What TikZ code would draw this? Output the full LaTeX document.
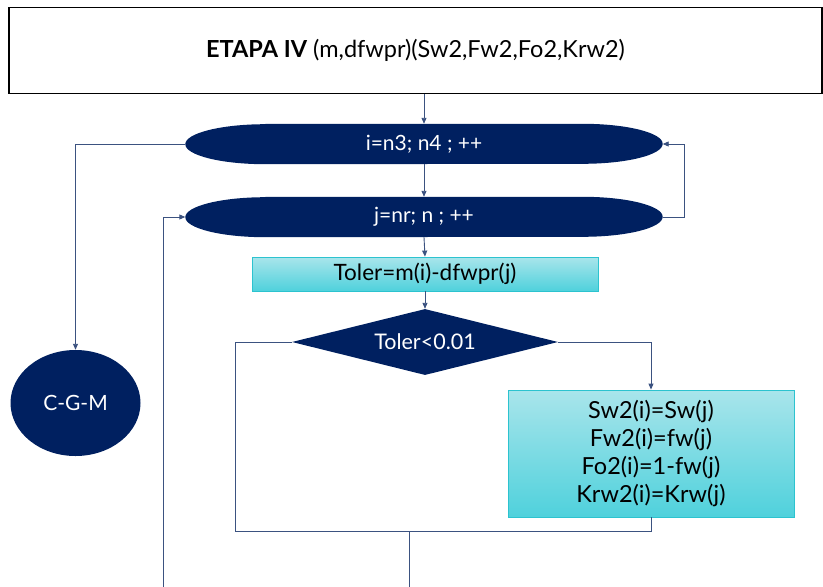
\documentclass[tikz,border=0pt]{standalone}
\usepackage{fontspec}
\setmainfont{Lato}
\usetikzlibrary{shapes.geometric,arrows.meta}
\definecolor{navy}{HTML}{002060}
\definecolor{lineblue}{HTML}{3B5280}
\definecolor{cyantop}{HTML}{A9E5EB}
\definecolor{cyanbot}{HTML}{4FD1DC}
\definecolor{cyanedge}{HTML}{2CC3CF}
\tikzset{
  conn/.style={draw=lineblue, line width=0.9pt},
  arr/.style={conn, -{Triangle[length=6pt,width=5pt]}},
  loopnode/.style={rectangle, minimum width=477, minimum height=40, inner sep=0pt},
  looptext/.style={text=white, inner sep=0pt, font=\fontsize{21}{24}\selectfont},
  procbox/.style={rectangle, draw=cyanedge, line width=0.8pt, top color=cyantop, bottom color=cyanbot, inner sep=0pt, text=black},
}
\newcommand{\loopshape}[1]{%
  \fill[navy] ([xshift=80pt]#1.north west) -- ([xshift=-80pt]#1.north east)
    arc[start angle=-90, end angle=90, x radius=80, y radius=20]
    -- ([xshift=80pt]#1.south west)
    arc[start angle=90, end angle=270, x radius=80, y radius=20] -- cycle;}
\begin{document}
\begin{tikzpicture}[x=1pt,y=-1pt]
\useasboundingbox (0,0) rectangle (823,587);
% title
\node[draw=black, line width=1.5pt, minimum width=813, minimum height=86, inner sep=0pt, font=\fontsize{23.5}{26}\selectfont] (title) at (415.5,50.5) {\textbf{ETAPA IV} (m,dfwpr)(Sw2,Fw2,Fo2,Krw2)};
% loops
\node[loopnode] (li) at (424,144) {};
\node[loopnode] (lj) at (424,217) {};
\loopshape{li}
\loopshape{lj}
\node[looptext] (lit) at (li.center) {i=n3; n4 ; ++};
\node[looptext] (ljt) at (lj.center) {j=nr; n ; ++};
% C-G-M
\node[ellipse, fill=navy, text=white, minimum width=130, minimum height=106, inner sep=0pt, font=\fontsize{21}{24}\selectfont] (cgm) at (75.5,403) {C-G-M};
% toler box
\node[procbox, minimum width=346, minimum height=34, font=\fontsize{22.5}{26}\selectfont] (tol) at (425,274) {Toler=m(i)-dfwpr(j)};
% diamond
\node[diamond, fill=navy, text=white, aspect=4, minimum width=266, minimum height=66, inner sep=0pt, font=\fontsize{21.5}{24}\selectfont] (dec) at (425,342) {Toler<0.01};
% assignment box
\node[procbox, minimum width=286, minimum height=127, align=center, font=\fontsize{23.5}{27.7}\selectfont] (asg) at (651,453.5) {Sw2(i)=Sw(j)\\Fw2(i)=fw(j)\\Fo2(i)=1-fw(j)\\Krw2(i)=Krw(j)};
% helper coordinates
\coordinate (rloop) at (684,0);
\coordinate (back) at (163,587);
\coordinate (lbranch) at (235,0);
\coordinate (join) at (409,531);
\coordinate (bottom) at (409,587);
% connectors
\draw[arr] (title.south -| li) -- (li.north);
\draw[arr] (li.south) -- (lj.north);
\draw[arr] (lj.east) -- (rloop |- lj.east) -- (rloop |- li.east) -- (li.east);
\draw[arr] (li.west) -| (cgm.north);
\draw[arr] (back) |- (lj.west);
\draw[arr] (lj.south) -- (tol.north);
\draw[arr] (tol.south) -- (dec.north);
\draw[arr] (dec.east) -| (asg.north);
\draw[conn] (dec.west) -| (lbranch |- join) -- (join) -- (bottom);
\draw[conn] (asg.south) |- (join);
\end{tikzpicture}
\end{document}
